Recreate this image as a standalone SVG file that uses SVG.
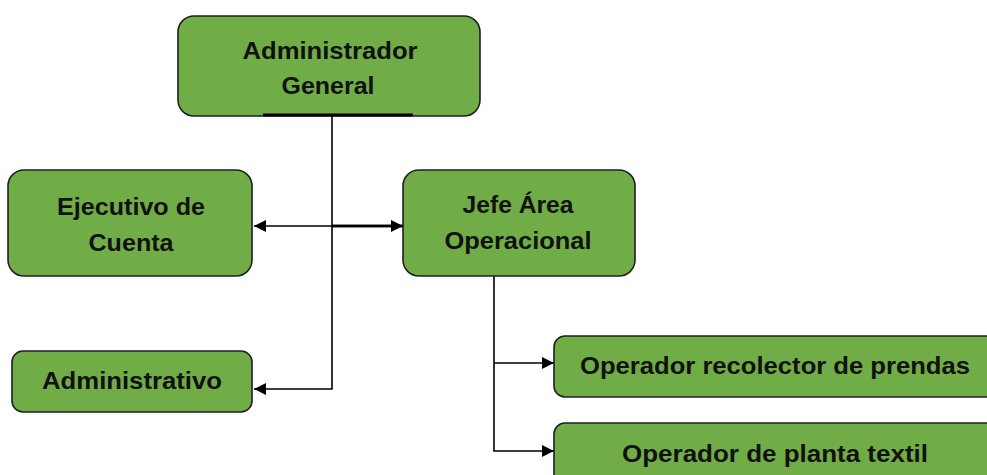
<svg xmlns="http://www.w3.org/2000/svg" width="987" height="475" viewBox="0 0 987 475">
  <style>
    .box { fill: #70AD47; stroke: #1f1f1f; stroke-width: 1.6; }
    .lbl { font-family: "Liberation Sans", Arial, sans-serif; font-weight: bold; font-size: 24px; fill: #111; text-anchor: middle; }
    .wire { fill: none; stroke: #000; stroke-width: 1.6; }
  </style>
  <defs>
    <marker id="arrowL" viewBox="0 0 12 12" refX="12" refY="6" markerWidth="12" markerHeight="12" markerUnits="userSpaceOnUse" orient="auto">
      <path d="M0,0 L12,6 L0,12 z" fill="#000"/>
    </marker>
  </defs>

  <g id="connectors">
    <!-- trunk from the top box down to Administrativo -->
    <path class="wire" d="M332,116 V389 H254" marker-end="url(#arrowL)"/>
    <!-- branch to Ejecutivo de Cuenta -->
    <path class="wire" d="M332,226 H254" marker-end="url(#arrowL)"/>
    <!-- branch to Jefe Área Operacional -->
    <path class="wire" d="M332,226 H410" style="stroke-width:2.6"/>
    <path class="wire" d="M332,226 H403" marker-end="url(#arrowL)" style="stroke-width:2.6"/>
    <!-- operational branch -->
    <path class="wire" d="M494,276 V451 H554" marker-end="url(#arrowL)"/>
    <path class="wire" d="M494,363 H554" marker-end="url(#arrowL)"/>
  </g>

  <g id="admin-general">
    <rect class="box" x="178" y="16" width="302" height="100" rx="16"/>
    <line x1="263" y1="115" x2="413" y2="115" stroke="#000" stroke-width="3"/>
    <text class="lbl" x="330" y="59" textLength="175" lengthAdjust="spacingAndGlyphs">Administrador</text>
    <text class="lbl" x="328" y="94" textLength="93" lengthAdjust="spacingAndGlyphs">General</text>
  </g>

  <g id="ejecutivo-cuenta">
    <rect class="box" x="8" y="170" width="244" height="106" rx="16"/>
    <text class="lbl" x="131" y="215" textLength="148" lengthAdjust="spacingAndGlyphs">Ejecutivo de</text>
    <text class="lbl" x="131" y="251" textLength="85" lengthAdjust="spacingAndGlyphs">Cuenta</text>
  </g>

  <g id="jefe-area">
    <rect class="box" x="403" y="170" width="232" height="106" rx="16"/>
    <text class="lbl" x="518" y="213" textLength="111" lengthAdjust="spacingAndGlyphs">Jefe Área</text>
    <text class="lbl" x="518" y="249" textLength="147" lengthAdjust="spacingAndGlyphs">Operacional</text>
  </g>

  <g id="administrativo">
    <rect class="box" x="12" y="351" width="240" height="61" rx="11"/>
    <text class="lbl" x="132" y="389" textLength="180" lengthAdjust="spacingAndGlyphs">Administrativo</text>
  </g>

  <g id="operador-recolector">
    <rect class="box" x="554" y="336" width="444" height="61" rx="11"/>
    <text class="lbl" x="775" y="374" textLength="390" lengthAdjust="spacingAndGlyphs">Operador recolector de prendas</text>
  </g>

  <g id="operador-planta">
    <rect class="box" x="554" y="423" width="444" height="70" rx="11"/>
    <text class="lbl" x="775" y="462" textLength="306" lengthAdjust="spacingAndGlyphs">Operador de planta textil</text>
  </g>
</svg>
